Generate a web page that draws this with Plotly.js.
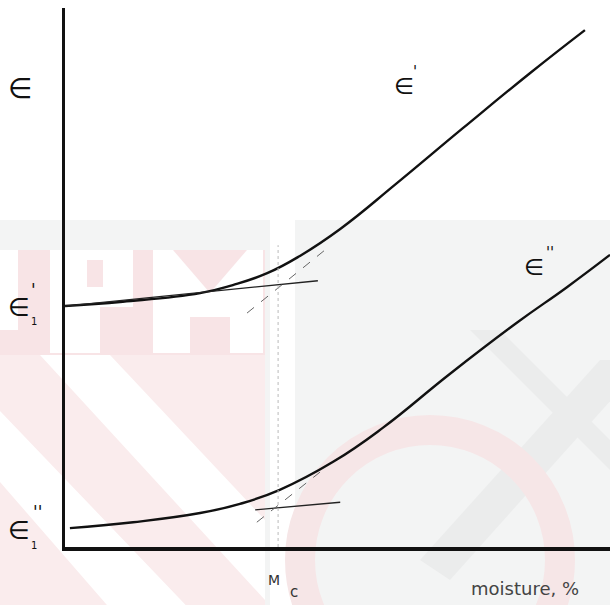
<!DOCTYPE html>
<html><head><meta charset="utf-8">
<script src="https://cdn.plot.ly/plotly-3.0.1.min.js"></script>
<style>html,body{margin:0;padding:0;background:#fff}#chart{width:610px;height:605px}</style>
</head><body><div id="chart"></div>
<script>
// ---- data (arbitrary units, 0-100) ----
const moistureA = [0, 10.6, 24.8, 30.8, 37.1, 43.1, 50.5, 60.9, 73.0, 85.3, 95.4];
const epsilonPrime = [44.7, 45.5, 47.1, 48.6, 50.8, 54.0, 59.0, 67.5, 77.7, 87.9, 95.9];
const moistureB = [0.9, 12.5, 24.8, 32.1, 39.4, 49.2, 58.3, 70.6, 82.9, 92.1, 100];
const epsilonDouble = [3.5, 4.6, 6.3, 8.0, 10.6, 15.8, 22.1, 32.1, 41.6, 48.2, 54.2];
// tangent constructions
const tanPrimeLowX = [0, 46.4], tanPrimeLowY = [44.7, 49.4];
const tanPrimeSteepX = [33.4, 47.7], tanPrimeSteepY = [43.4, 55.1];
const tanDoubleLowX = [34.9, 50.5], tanDoubleLowY = [6.9, 8.3];
const tanDoubleSteepX = [35.2, 46.8], tanDoubleSteepY = [4.6, 13.9];
const criticalMoisture = [39.1, 39.1], criticalY = [0, 56];

// ---- layout helpers (pixel -> paper) ----
const L = 65, T = 8, W = 545, H = 539;
const X = px => (px - L) / W;
const Y = py => (T + H - py) / H;

function ann(px, py, text, size, color) {
  return {x: X(px), y: Y(py), xref: 'paper', yref: 'paper', text: text, showarrow: false,
    xanchor: 'center', yanchor: 'middle',
    font: {family: 'DejaVu Sans', size: size, color: color || '#111'}};
}
function rect(x0, y0, x1, y1, color) {
  return {type: 'rect', xref: 'paper', yref: 'paper', x0: X(x0), x1: X(x1), y0: Y(y0), y1: Y(y1),
    fillcolor: color, line: {width: 0}, layer: 'below'};
}
function poly(pts, color) {
  const d = pts.map((p, i) => (i ? 'L' : 'M') + X(p[0]) + ',' + Y(p[1])).join(' ') + ' Z';
  return {type: 'path', xref: 'paper', yref: 'paper', path: d, fillcolor: color, line: {width: 0}, layer: 'below'};
}

const pink = '#f8e4e6', pinkLight = '#faeced', gray = '#f3f4f4', white = '#ffffff';
const shapes = [
  rect(-80, 220, 620, 620, gray),
  // UPM block
  rect(-80, 250, 265, 355, pink),
  rect(50, 250, 133, 353, white),
  rect(87, 260, 103, 287, pink),
  rect(100, 307, 133, 353, pink),
  rect(153, 250, 263, 353, white),
  poly([[173, 250], [247, 250], [210, 293]], pink),
  rect(190, 317, 230, 353, pink),
  rect(-80, 250, 18, 330, white),
  // lower-left pink diagonal pattern
  poly([[-80, 355], [265, 355], [265, 620], [-80, 620]], pinkLight),
  poly([[-80, 390], [-20, 390], [200, 620], [120, 620]], white),
  poly([[40, 355], [110, 355], [265, 520], [265, 600]], white),
  rect(270, 220, 295, 620, white),
  // right gray diagonals
  poly([[470, 330], [500, 330], [620, 450], [620, 480]], '#ebecec'),
  poly([[420, 560], [600, 360], [620, 360], [620, 390], [450, 580]], '#ebecec'),
  // ring logo
  {type: 'circle', xref: 'paper', yref: 'paper', x0: X(300), x1: X(560), y0: Y(690), y1: Y(430),
    fillcolor: 'rgba(0,0,0,0)', line: {color: '#f6e6e7', width: 30}, layer: 'below'}
];

const traces = [
  {x: moistureA, y: epsilonPrime, mode: 'lines', line: {color: '#111', width: 2.4, shape: 'spline', smoothing: 1.3}, hoverinfo: 'skip'},
  {x: moistureB, y: epsilonDouble, mode: 'lines', line: {color: '#111', width: 2.4, shape: 'spline', smoothing: 1.3}, hoverinfo: 'skip'},
  {x: tanPrimeLowX, y: tanPrimeLowY, mode: 'lines', line: {color: '#222', width: 1.3}},
  {x: tanPrimeSteepX, y: tanPrimeSteepY, mode: 'lines', line: {color: '#666', width: 1, dash: 'dash'}},
  {x: tanDoubleLowX, y: tanDoubleLowY, mode: 'lines', line: {color: '#222', width: 1.3}},
  {x: tanDoubleSteepX, y: tanDoubleSteepY, mode: 'lines', line: {color: '#666', width: 1, dash: 'dash'}},
  {x: criticalMoisture, y: criticalY, mode: 'lines', line: {color: '#bbb', width: 1, dash: 'dot'}}
];

const annotations = [
  ann(20, 89, '∈', 28),
  ann(19, 308, '∈', 25), ann(33, 290, "'", 17), ann(34, 322, '1', 10),
  ann(19, 530, '∈', 25), ann(37, 512, "''", 17), ann(34, 545, '1', 10),
  ann(404, 86, '∈', 23), ann(415, 72, "'", 15),
  ann(534, 267, '∈', 23), ann(550, 253, "''", 15),
  ann(274, 580, 'M', 14, '#333'), ann(294, 592, 'c', 15, '#333'),
  ann(525, 588, 'moisture, %', 18, '#444')
];

const layout = {
  width: 610, height: 605,
  margin: {l: L, r: 0, t: T, b: 605 - T - H, pad: 0},
  paper_bgcolor: '#ffffff', plot_bgcolor: 'rgba(0,0,0,0)',
  showlegend: false,
  xaxis: {range: [0, 100], showline: true, linecolor: '#111', linewidth: 3.5, showgrid: false,
    zeroline: false, showticklabels: false, ticks: '', fixedrange: true},
  yaxis: {range: [0, 100], showline: true, linecolor: '#111', linewidth: 3, showgrid: false,
    zeroline: false, showticklabels: false, ticks: '', fixedrange: true},
  shapes: shapes,
  annotations: annotations
};

Plotly.newPlot('chart', traces, layout, {staticPlot: true, displayModeBar: false});
</script></body></html>
